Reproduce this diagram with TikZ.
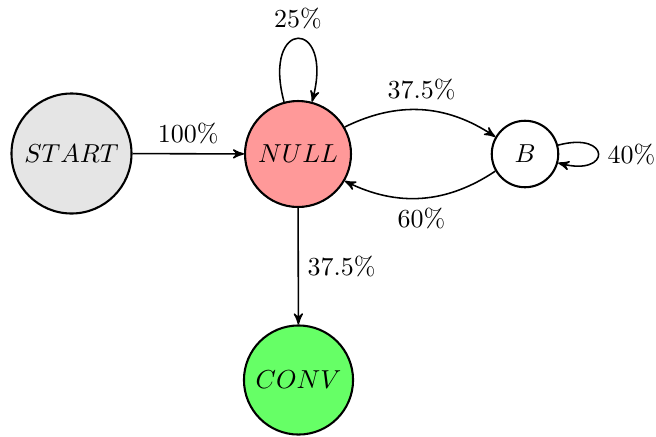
\documentclass[tikz,border=0pt]{standalone}
\usetikzlibrary{arrows,automata}
\begin{document}
\begin{tikzpicture}[x=0.385pt,y=-0.385pt,>=stealth',
  st/.style={circle,draw=black,thick,inner sep=0pt},
  edge/.style={->,semithick},
  every loop/.style={}]
\useasboundingbox (0,0) rectangle (656,436);
\node[st,fill=gray!20,minimum size=46.2pt] (start) at (71.5,153.5) {$START$};
\node[st,fill=red!40,minimum size=40.8pt] (null) at (298,154) {$NULL$};
\node[st,fill=white,minimum size=25.6pt] (b) at (525,154) {$B$};
\node[st,fill=green!60,minimum size=42pt] (conv) at (298.5,380) {$CONV$};
\draw[edge] (start) -- node[above] {100\%} (null);
\draw[edge] (null) to[bend left=30] node[above] {37.5\%} (b);
\draw[edge] (b) to[bend left=30] node[below] {60\%} (null);
\draw[edge] (null) to[loop above] node[above] {25\%} (null);
\draw[edge] (b) to[loop right] node[right] {40\%} (b);
\draw[edge] (null) -- node[right] {37.5\%} (conv);
\end{tikzpicture}
\end{document}
